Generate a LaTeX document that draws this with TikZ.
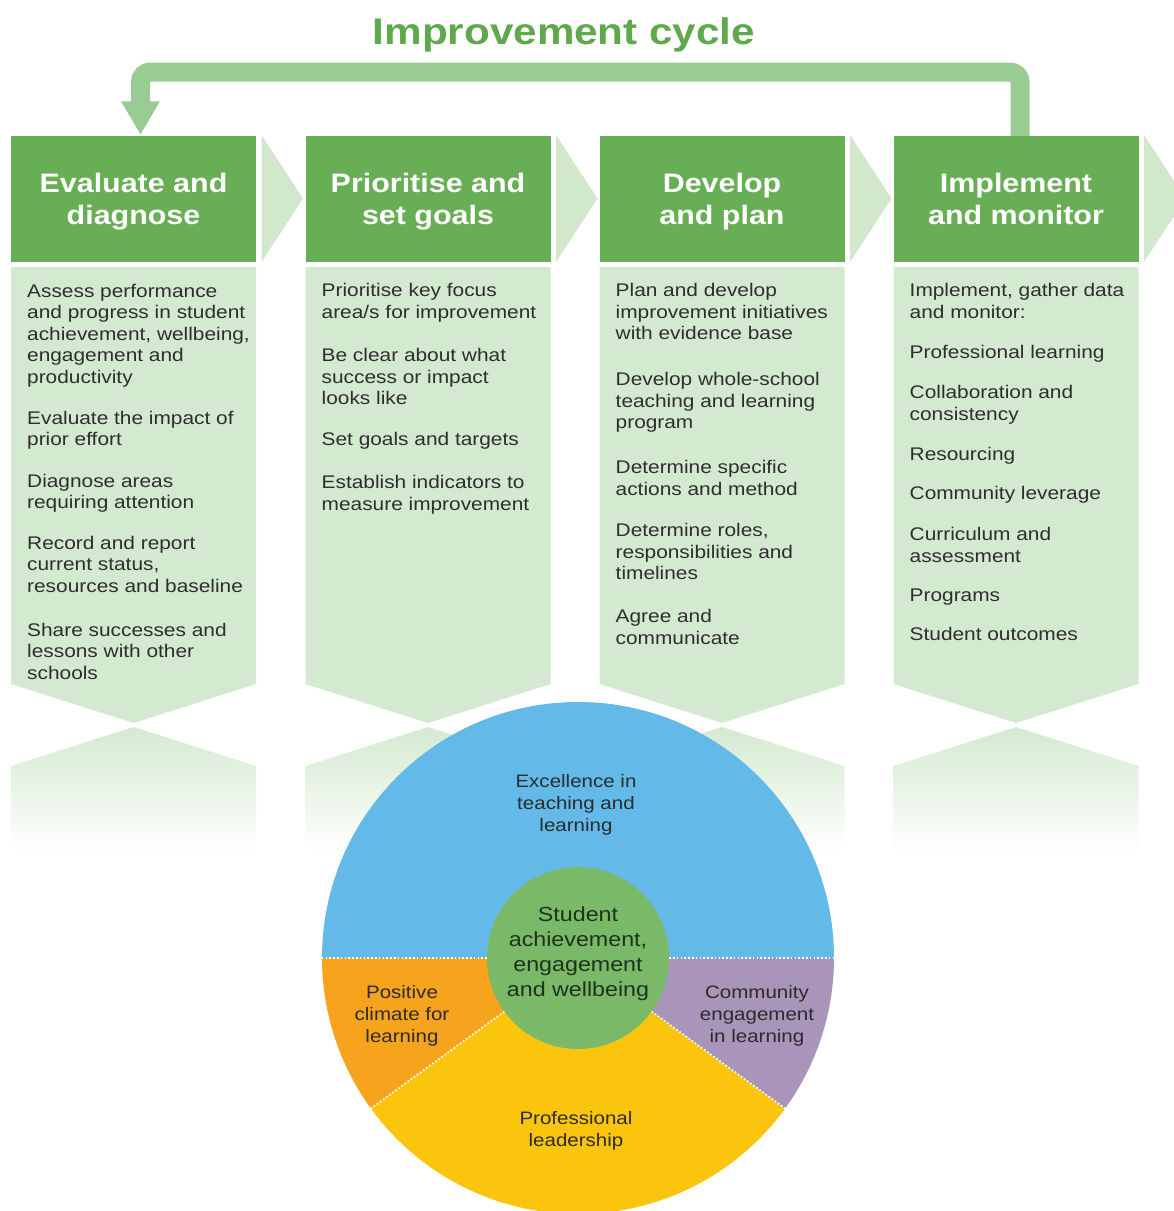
\documentclass[tikz,border=0pt]{standalone}
\usepackage{fontspec}
\setmainfont[FakeStretch=1.14]{Liberation Sans}
\usetikzlibrary{arrows.meta}
\definecolor{hdrgreen}{HTML}{67AE54}
\definecolor{bodygreen}{HTML}{D4EAD0}
\definecolor{chevgreen}{HTML}{D1E8CC}
\definecolor{arrowgreen}{HTML}{98CC93}
\definecolor{titlegreen}{HTML}{5EA94B}
\definecolor{bodytext}{HTML}{2E2E2E}
\definecolor{cblue}{HTML}{63BAE9}
\definecolor{corange}{HTML}{F6A31E}
\definecolor{cyellow}{HTML}{FCC50D}
\definecolor{cpurple}{HTML}{A994BA}
\definecolor{cgreen}{HTML}{7AB967}
\definecolor{coretext}{HTML}{1E321E}
\definecolor{segtext}{HTML}{2B2B2B}
\newcommand{\fl}{\rule{0pt}{15pt}}
\newcommand{\fls}{\rule{0pt}{14pt}}
\begin{document}
\begin{tikzpicture}[x=1pt,y=-1pt,
  titlestyle/.style={anchor=base, inner sep=0, text=titlegreen, font=\bfseries\fontsize{37}{40}\selectfont},
  hdr/.style={rectangle, fill=hdrgreen, minimum width=245pt, minimum height=126pt, inner sep=0,
    text=white, font=\bfseries\fontsize{26.7}{32}\selectfont, align=center, text depth=0pt},
  para/.style={anchor=north west, inner sep=0, align=left, text=bodytext, font=\fontsize{18.3}{21.5}\selectfont},
  band/.style={draw=arrowgreen, line width=19pt, rounded corners=10pt},
  wheelstyle/.style={circle, minimum size=512pt, inner sep=0},
  core/.style={circle, fill=cgreen, minimum size=182pt, inner sep=0, align=center, text=coretext,
    font=\fontsize{20.4}{25}\selectfont, text depth=12pt},
  seglabel/.style={anchor=north, inner sep=0, align=center, text=segtext, font=\fontsize{18}{22}\selectfont},
  dotline/.style={draw=white, line width=1.8pt, dash pattern=on 1.6pt off 2.2pt}
]
\useasboundingbox[fill=white] (0,0) rectangle (1174,1211);

% title
\node[titlestyle] (title) at (564,44) {Improvement cycle};

% column bodies, reflections and chevrons
\foreach \cx in {133.5,428,722,1016} {
  \fill[bodygreen] (\cx-122.5,267) -- (\cx+122.5,267) -- (\cx+122.5,684) -- (\cx,723) -- (\cx-122.5,684) -- cycle;
  \shade[top color=bodygreen, middle color=bodygreen!50, bottom color=white]
    (\cx,727) -- (\cx+122.5,766) -- (\cx+122.5,852) -- (\cx-122.5,852) -- (\cx-122.5,766) -- cycle;
  \fill[chevgreen] (\cx+128,135) -- (\cx+169.5,198.5) -- (\cx+128,262) -- cycle;
}

% headers
\node[hdr] (h1) at (133.5,199) {Evaluate and\\diagnose};
\node[hdr] (h2) at (428,199) {Prioritise and\\set goals};
\node[hdr] (h3) at (722,199) {Develop\\and plan};
\node[hdr] (h4) at (1016,199) {Implement\\and monitor};

% improvement cycle arrow
\coordinate (tipA) at ([xshift=7pt,yshift=1.5pt]h1.north);
\coordinate (startB) at ([xshift=4pt]h4.north);
\coordinate (topY) at (0,72);
\draw[band] (startB) |- (tipA |- topY) -- ([yshift=32pt]tipA);
\fill[arrowgreen] (tipA) -- ([xshift=-19.5pt,yshift=33pt]tipA) -- ([xshift=19.5pt,yshift=33pt]tipA) -- cycle;

% column 1 text
\node[para] (e1) at (27,282) {\fl Assess performance\\and progress in student\\achievement, wellbeing,\\engagement and\\productivity};
\node[para] (e2) at (27,409) {\fl Evaluate the impact of\\prior effort};
\node[para] (e3) at (27,472) {\fl Diagnose areas\\requiring attention};
\node[para] (e4) at (27,534) {\fl Record and report\\current status,\\resources and baseline};
\node[para] (e5) at (27,621) {\fl Share successes and\\lessons with other\\schools};

% column 2 text
\node[para] (p1) at (321.5,281.5) {\fl Prioritise key focus\\area/s for improvement};
\node[para] (p2) at (321.5,346.5) {\fl Be clear about what\\success or impact\\looks like};
\node[para] (p3) at (321.5,430.5) {\fl Set goals and targets};
\node[para] (p4) at (321.5,473.5) {\fl Establish indicators to\\measure improvement};

% column 3 text
\node[para] (d1) at (615.5,281.5) {\fl Plan and develop\\improvement initiatives\\with evidence base};
\node[para] (d2) at (615.5,370.5) {\fl Develop whole-school\\teaching and learning\\program};
\node[para] (d3) at (615.5,458.5) {\fl Determine specific\\actions and method};
\node[para] (d4) at (615.5,521.5) {\fl Determine roles,\\responsibilities and\\timelines};
\node[para] (d5) at (615.5,607.5) {\fl Agree and\\communicate};

% column 4 text
\node[para] (i1) at (909.5,281.5) {\fl Implement, gather data\\and monitor:};
\node[para] (i2) at (909.5,343.5) {\fl Professional learning};
\node[para] (i3) at (909.5,383.5) {\fl Collaboration and\\consistency};
\node[para] (i4) at (909.5,445.5) {\fl Resourcing};
\node[para] (i5) at (909.5,484.5) {\fl Community leverage};
\node[para] (i6) at (909.5,525.5) {\fl Curriculum and\\assessment};
\node[para] (i7) at (909.5,586.5) {\fl Programs};
\node[para] (i8) at (909.5,625.5) {\fl Student outcomes};

% wheel
\coordinate (c) at (578,958);
\fill[cblue] (c) -- ++(180:256) arc[start angle=180,end angle=360,radius=256] -- cycle;
\fill[corange] (c) -- ++(144:256) arc[start angle=144,end angle=180,radius=256] -- cycle;
\fill[cyellow] (c) -- ++(36:256) arc[start angle=36,end angle=144,radius=256] -- cycle;
\fill[cpurple] (c) -- ++(0:256) arc[start angle=0,end angle=36,radius=256] -- cycle;
\node[wheelstyle] (wheel) at (c) {};
\node[core] (core) at (c) {Student\\achievement,\\engagement\\and wellbeing};
\draw[dotline] (wheel.180) -- (core.180);
\draw[dotline] (core.0) -- (wheel.0);
\draw[dotline] (core.216) -- (wheel.216);
\draw[dotline] (core.324) -- (wheel.324);

\node[seglabel] (exc) at (576,773) {\fls Excellence in\\teaching and\\learning};
\node[seglabel] (pos) at (402,984) {\fls Positive\\climate for\\learning};
\node[seglabel] (com) at (757,984) {\fls Community\\engagement\\in learning};
\node[seglabel] (pro) at (576,1110) {\fls Professional\\leadership};
\end{tikzpicture}
\end{document}
